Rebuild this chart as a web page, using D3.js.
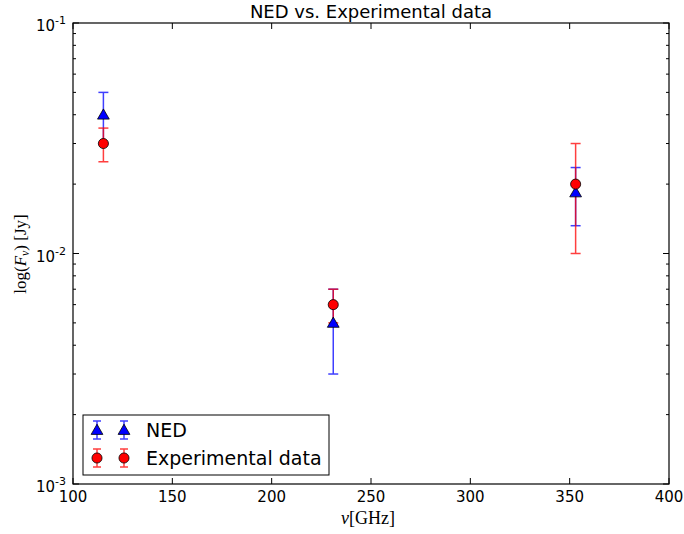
<!DOCTYPE html>
<html>
<head>
<meta charset="utf-8">
<script src="https://cdn.jsdelivr.net/npm/d3@7"></script>
<style>
  body { margin: 0; background: #fff; }
  svg { display: block; }
  text { font-family: "DejaVu Sans", sans-serif; fill: #000; }
  .math { font-family: "Liberation Serif", "DejaVu Serif", serif; }
</style>
</head>
<body>
<svg id="chart" width="684" height="534"></svg>
<script>
// data
var freq = [115.3, 231, 353];            // GHz
var nedFlux = [0.04, 0.005, 0.0184];     // Jy
var nedErr = [0.01, 0.002, 0.0052];
var expFlux = [0.03, 0.006, 0.02];
var expErr = [0.005, 0.001, 0.01];
var xTicks = [100, 150, 200, 250, 300, 350, 400];
var yDecades = [-3, -2, -1];
var seriesNames = ["NED", "Experimental data"];

var svg = d3.select("#chart");
var m = {left: 73, right: 669, top: 23, bottom: 484};

var x = d3.scaleLinear().domain([100, 400]).range([m.left, m.right]);
var y = d3.scaleLog().domain([1e-3, 1e-1]).range([m.bottom, m.top]);

var axisG = svg.append("g");

// ticks, inside, on all four sides
xTicks.forEach(function(t) {
    axisG.append("line").attr("x1", x(t)).attr("x2", x(t))
        .attr("y1", m.bottom).attr("y2", m.bottom - 6).attr("stroke", "#000");
    axisG.append("line").attr("x1", x(t)).attr("x2", x(t))
        .attr("y1", m.top).attr("y2", m.top + 6).attr("stroke", "#000");
    axisG.append("text").attr("x", x(t)).attr("y", m.bottom + 18)
        .attr("text-anchor", "middle").style("font-size", "15px").text(t);
});

var minor = [];
yDecades.slice(0, -1).forEach(function(d) {
    for (var k = 2; k <= 9; k++) minor.push(k * Math.pow(10, d));
});
minor.forEach(function(v) {
    axisG.append("line").attr("x1", m.left).attr("x2", m.left + 3)
        .attr("y1", y(v)).attr("y2", y(v)).attr("stroke", "#000");
    axisG.append("line").attr("x1", m.right).attr("x2", m.right - 3)
        .attr("y1", y(v)).attr("y2", y(v)).attr("stroke", "#000");
});
yDecades.forEach(function(d) {
    var v = Math.pow(10, d);
    axisG.append("line").attr("x1", m.left).attr("x2", m.left + 6)
        .attr("y1", y(v)).attr("y2", y(v)).attr("stroke", "#000");
    axisG.append("line").attr("x1", m.right).attr("x2", m.right - 6)
        .attr("y1", y(v)).attr("y2", y(v)).attr("stroke", "#000");
    var t = axisG.append("text").attr("x", m.left - 7).attr("y", y(v) + 8)
        .attr("text-anchor", "end").style("font-size", "15px");
    t.append("tspan").text("10");
    t.append("tspan").attr("dy", -7).style("font-size", "11px").text(String(d));
});

axisG.append("rect").attr("x", m.left).attr("y", m.top)
    .attr("width", m.right - m.left).attr("height", m.bottom - m.top)
    .attr("fill", "none").attr("stroke", "#000").attr("stroke-width", 1.2);

// labels
svg.append("text").attr("x", (m.left + m.right) / 2).attr("y", 18)
    .attr("text-anchor", "middle").style("font-size", "18px").text("NED vs. Experimental data");

var xl = svg.append("text").attr("class", "math").attr("x", 368).attr("y", 524)
    .attr("text-anchor", "middle").style("font-size", "18px");
xl.append("tspan").style("font-style", "italic").text("ν");
xl.append("tspan").text("[GHz]");

var yl = svg.append("text").attr("class", "math")
    .attr("transform", "translate(26,254) rotate(-90)")
    .attr("text-anchor", "middle").style("font-size", "17px");
yl.append("tspan").text("log(");
yl.append("tspan").style("font-style", "italic").text("F");
yl.append("tspan").attr("dy", 3).style("font-size", "12px").style("font-style", "italic").text("ν");
yl.append("tspan").attr("dy", -3).text(") [Jy]");

// error bars
function errBars(vals, errs, color) {
    var g = svg.append("g").attr("stroke", color).attr("stroke-width", 1.5).attr("opacity", 0.75);
    freq.forEach(function(f, i) {
        var lo = y(vals[i] - errs[i]), hi = y(vals[i] + errs[i]), cx = x(f);
        g.append("line").attr("x1", cx).attr("x2", cx).attr("y1", lo).attr("y2", hi);
        g.append("line").attr("x1", cx - 5).attr("x2", cx + 5).attr("y1", lo).attr("y2", lo);
        g.append("line").attr("x1", cx - 5).attr("x2", cx + 5).attr("y1", hi).attr("y2", hi);
    });
}
errBars(nedFlux, nedErr, "#0000ff");
errBars(expFlux, expErr, "#ff0000");

var tri = d3.symbol().type(d3.symbolTriangle).size(60);
var dot = d3.symbol().type(d3.symbolCircle).size(80);

svg.append("g").selectAll("path").data(freq).enter().append("path")
    .attr("d", tri)
    .attr("transform", function(d, i) { return "translate(" + x(d) + "," + (y(nedFlux[i]) + 1) + ")"; })
    .attr("fill", "#0000ff").attr("stroke", "#000").attr("stroke-width", 0.8);
svg.append("g").selectAll("path").data(freq).enter().append("path")
    .attr("d", dot)
    .attr("transform", function(d, i) { return "translate(" + x(d) + "," + y(expFlux[i]) + ")"; })
    .attr("fill", "#ff0000").attr("stroke", "#000").attr("stroke-width", 0.8);

// legend
var lg = svg.append("g");
lg.append("rect").attr("x", 83).attr("y", 415).attr("width", 246).attr("height", 60)
    .attr("fill", "#fff").attr("stroke", "#000").attr("stroke-width", 1);
var legendRows = [
    {name: seriesNames[0], color: "#0000ff", sym: tri, dy: 1},
    {name: seriesNames[1], color: "#ff0000", sym: dot, dy: 0}
];
legendRows.forEach(function(r, i) {
    var cy = 430 + i * 28;
    [97, 124].forEach(function(cx) {
        var g = lg.append("g").attr("stroke", r.color).attr("stroke-width", 1.5).attr("opacity", 0.75);
        g.append("line").attr("x1", cx).attr("x2", cx).attr("y1", cy - 9).attr("y2", cy + 9);
        g.append("line").attr("x1", cx - 4).attr("x2", cx + 4).attr("y1", cy - 9).attr("y2", cy - 9);
        g.append("line").attr("x1", cx - 4).attr("x2", cx + 4).attr("y1", cy + 9).attr("y2", cy + 9);
        lg.append("path").attr("d", r.sym)
            .attr("transform", "translate(" + cx + "," + (cy + r.dy) + ")")
            .attr("fill", r.color).attr("stroke", "#000").attr("stroke-width", 0.8);
    });
    lg.append("text").attr("x", 146).attr("y", cy + 7).style("font-size", "19px").text(r.name);
});
</script>
</body>
</html>
